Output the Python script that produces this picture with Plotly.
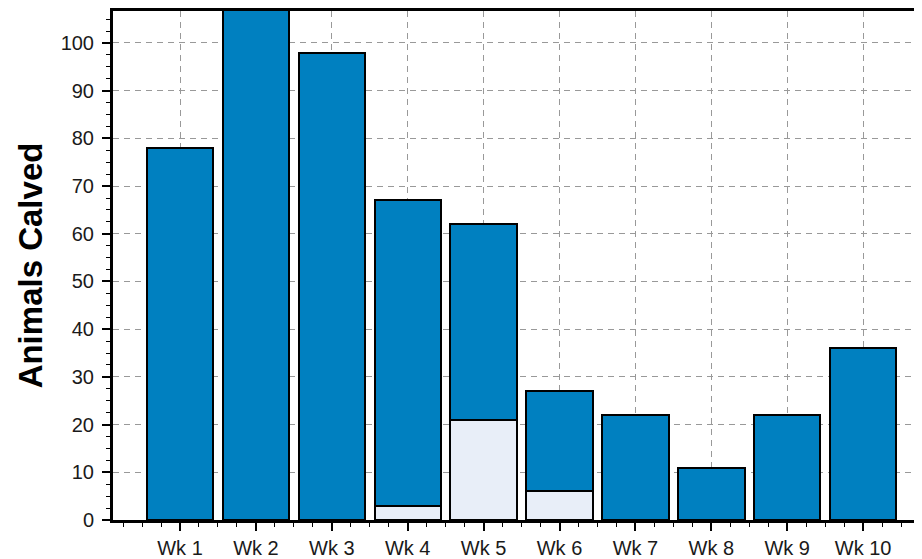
import plotly.graph_objects as go

weeks = ["Wk 1", "Wk 2", "Wk 3", "Wk 4", "Wk 5", "Wk 6", "Wk 7", "Wk 8", "Wk 9", "Wk 10"]
totals = [78, 110, 98, 67, 62, 27, 22, 11, 22, 36]
lower = [0, 0, 0, 3, 21, 6, 0, 0, 0, 0]
upper = [t - l for t, l in zip(totals, lower)]
y_ticks = list(range(0, 101, 10))

xpos = list(range(len(weeks)))

fig = go.Figure()
fig.add_trace(go.Bar(x=xpos, y=lower, marker=dict(color="#E8EEF8", line=dict(color="black", width=2)),
                     showlegend=False, hoverinfo="skip"))
fig.add_trace(go.Bar(x=xpos, y=upper, marker=dict(color="#0080C0", line=dict(color="black", width=2)),
                     showlegend=False))

# page body has an 8px margin, so the figure is sized to fill the rest of the window
fig.update_layout(
    width=914, height=551,
    margin=dict(l=105, r=0, t=3, b=39),
    barmode="stack", bargap=0.125,
    plot_bgcolor="white", paper_bgcolor="white",
    font=dict(family="Liberation Sans, Arial, sans-serif", color="#1a1a1a", size=20),
)
fig.update_xaxes(
    range=[-0.883, 9.776], tickmode="array", tickvals=xpos, ticktext=weeks,
    showgrid=True, gridcolor="#999999", griddash="6px,5px", gridwidth=1,
    showline=True, linecolor="black", linewidth=3, mirror=True,
    ticks="outside", ticklen=8, tickwidth=2, tickcolor="black",
    minor=dict(dtick=0.25, tick0=0, ticks="outside", ticklen=4, tickwidth=1, tickcolor="black", showgrid=False),
    zeroline=False, tickfont=dict(size=20),
)
fig.update_yaxes(
    range=[0, 106.7], tickmode="array", tickvals=y_ticks,
    showgrid=True, gridcolor="#999999", griddash="6px,5px", gridwidth=1,
    showline=True, linecolor="black", linewidth=3,
    ticks="outside", ticklen=8, tickwidth=2, tickcolor="black",
    minor=dict(dtick=2.5, tick0=0, ticks="outside", ticklen=4, tickwidth=1, tickcolor="black", showgrid=False),
    zeroline=False, tickfont=dict(size=20), ticklabelstandoff=4,
    title=dict(text="<b>Animals Calved</b>", font=dict(size=33, color="black"), standoff=9),
)

fig.write_html("out.html")
